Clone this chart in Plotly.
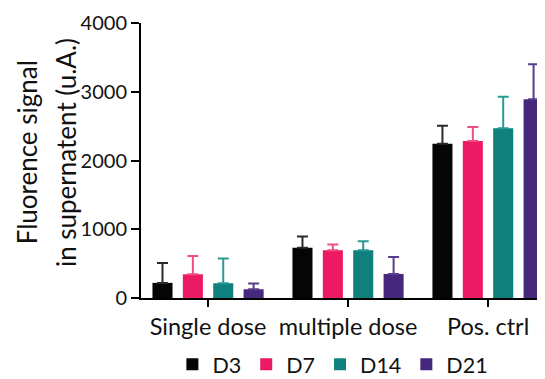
import plotly.graph_objects as go

categories = ["Single dose", "multiple dose", "Pos. ctrl"]
series_names = ["D3", "D7", "D14", "D21"]
means = {
    "D3": [220, 730, 2245],
    "D7": [345, 695, 2285],
    "D14": [215, 695, 2470],
    "D21": [127, 350, 2890],
}
errors = {
    "D3": [290, 165, 262],
    "D7": [267, 83, 203],
    "D14": [359, 131, 456],
    "D21": [83, 248, 510],
}
colors = {"D3": "#050505", "D7": "#EC1A64", "D14": "#0F807B", "D21": "#45287B"}
err_colors = {"D3": "#2a2a2a", "D7": "#EE4F80", "D14": "#2A9994", "D21": "#5A3C8E"}
y_ticks = [0, 1000, 2000, 3000, 4000]
title_lines = ["Fluorence signal", "in supernatent (u.A.)"]

fig = go.Figure()
for s in series_names:
    fig.add_trace(go.Bar(
        name=s, x=categories, y=means[s],
        marker=dict(color=colors[s], line=dict(width=0)),
        error_y=dict(type="data", array=errors[s], arrayminus=[0]*len(categories),
                     symmetric=False, color=err_colors[s], thickness=2, width=5.5),
    ))

font_family = "Lato, Open Sans, sans-serif"
# the page body adds an 8px offset, so the figure is 8px smaller than the window
fig.update_layout(
    width=537, height=371,
    margin=dict(l=133, r=0, t=15, b=81, autoexpand=False),
    paper_bgcolor="white", plot_bgcolor="white",
    barmode="group", bargap=0.132, bargroupgap=0.34,
    font=dict(family=font_family, color="#111111"),
    showlegend=True,
    legend=dict(orientation="h", xref="container", yref="container",
                x=0.605, xanchor="center", y=0.04, yanchor="middle",
                font=dict(size=21.5), tracegroupgap=0, traceorder="normal",
                bgcolor="rgba(0,0,0,0)"),
)
# two-line rotated axis title
for txt, xpos in zip(title_lines, [-0.282, -0.186]):
    fig.add_annotation(text=txt, xref="paper", yref="paper", x=xpos, y=0.53,
                       textangle=-90, showarrow=False, xanchor="center", yanchor="middle",
                       font=dict(size=26, family=font_family, color="#111111"))
fig.update_xaxes(
    range=[-0.479, 2.407], showline=True, linecolor="black", linewidth=2,
    ticks="outside", ticklen=7, tickwidth=2, tickcolor="black",
    tickfont=dict(size=23.5, family=font_family), showgrid=False, zeroline=False,
)
fig.update_yaxes(
    range=[0, 4000], tickvals=y_ticks, showline=True, linecolor="black", linewidth=2,
    ticks="outside", ticklen=8, tickwidth=2, tickcolor="black",
    tickfont=dict(size=20, family=font_family), showgrid=False, zeroline=False,
)
fig.write_html("out.html")
